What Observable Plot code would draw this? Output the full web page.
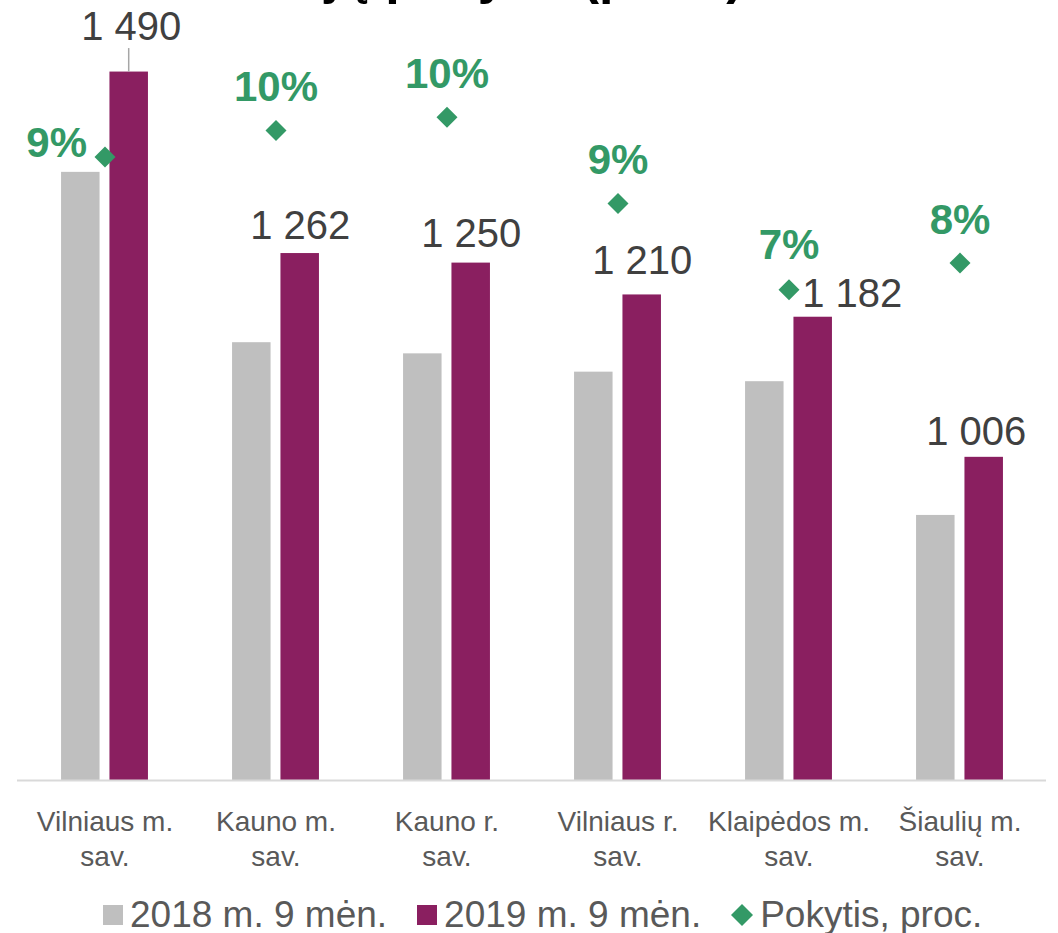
<!DOCTYPE html>
<html>
<head>
<meta charset="utf-8">
<script src="https://cdn.jsdelivr.net/npm/d3@7"></script>
<script src="https://cdn.jsdelivr.net/npm/@observablehq/plot@0.6"></script>
<style>
  html, body { margin: 0; padding: 0; background: #fff; }
  body { width: 1058px; height: 933px; position: relative; overflow: hidden; font-family: "Liberation Sans", Arial, sans-serif; }
  #title { position: absolute; top: -51px; left: 5px; width: 1058px; text-align: center; font-size: 52px; line-height: 52px; font-weight: bold; color: #000; z-index: 2; white-space: nowrap; }
  #chart { position: absolute; top: 0; left: 0; }
  #legend { position: absolute; top: 896px; left: 103px; height: 37px; display: flex; align-items: center; font-size: 37px; line-height: 37px; color: #595959; white-space: nowrap; }
  #legend .item { display: flex; align-items: center; margin-right: 30px; }
  #legend .sw { width: 20px; height: 20px; margin-right: 7px; }
  #legend svg { margin-right: 7px; }
</style>
</head>
<body>
<div id="title">jų pokytis (proc.)</div>
<div id="chart"></div>
<div id="legend"></div>
<script>
// ---- data ----
const categories = ["Vilniaus m.\nsav.", "Kauno m.\nsav.", "Kauno r.\nsav.", "Vilniaus r.\nsav.", "Klaipėdos m.\nsav.", "Šiaulių m.\nsav."];
const values2018 = [1364, 1150, 1136, 1113, 1101, 933];
const values2019 = [1490, 1262, 1250, 1210, 1182, 1006];
const pokytis = [9.4, 9.8, 10.0, 8.7, 7.4, 7.8];
const pokytisLabels = ["9%", "10%", "10%", "9%", "7%", "8%"];
const seriesNames = ["2018 m. 9 mėn.", "2019 m. 9 mėn.", "Pokytis, proc."];

// ---- axes (primary: value, secondary: percent) ----
const yDomain = [600, 1600];
const pctDomain = [0, 12];
const pctToPrimary = p => yDomain[0] + (p - pctDomain[0]) * (yDomain[1] - yDomain[0]) / (pctDomain[1] - pctDomain[0]);

// ---- style / layout ----
const colors = {g2018: "#BFBFBF", g2019: "#8A1F60", pct: "#339966", value: "#404040", cat: "#595959", axis: "#D9D9D9"};
const FONT = "Liberation Sans, Arial, sans-serif";
const valueLabelDx = [2, 0, 0, 0, 39, -8];
const valueLabelDy = [-32, -15, -16, -21, -10, -12];
const pctLabelDx = [-18, 0, 0, 0, 0, 0];
const pctLabelDy = [0, -29, -29, -29, -31, -29];
const pctLabelAnchor = ["end", "middle", "middle", "middle", "middle", "middle"];

const rows = categories.map((c, i) => ({c, v18: values2018[i], v19: values2019[i], p: pokytis[i], pl: pokytisLabels[i], i}));
const fmt = v => String(v).replace(/\B(?=(\d{3})+(?!\d))/g, " ");

const diamond = {
  draw(context, size) {
    const h = Math.sqrt(size / Math.PI);
    context.moveTo(0, -h);
    context.lineTo(h, 0);
    context.lineTo(0, h);
    context.lineTo(-h, 0);
    context.closePath();
  }
};

const W = 1058, H = 880, mL = 17, mR = 12;
const band = (W - mL - mR) / categories.length;
const barW = 39, gap = 9.4;
const center = band / 2;

const marks = [
  Plot.barY(rows, {x: "c", y1: yDomain[0], y2: "v18", fill: colors.g2018,
    insetLeft: center - gap / 2 - barW, insetRight: band - (center - gap / 2)}),
  Plot.barY(rows, {x: "c", y1: yDomain[0], y2: "v19", fill: colors.g2019,
    insetLeft: center + gap / 2, insetRight: band - (center + gap / 2 + barW)}),
  Plot.ruleY([yDomain[0]], {stroke: colors.axis, strokeWidth: 2}),
  Plot.ruleX([rows[0]], {x: "c", y1: "v19", y2: "v19", dx: gap / 2 + barW / 2 - 0.5, insetTop: -23.5, stroke: "#A6A6A6", strokeWidth: 1.5}),
  Plot.text(rows, {x: "c", y: yDomain[0], text: "c", dy: 26, lineAnchor: "top", lineHeight: 1.25,
    fontSize: 28, fill: colors.cat, fontFamily: FONT}),
  Plot.dot(rows, {x: "c", y: d => pctToPrimary(d.p), symbol: diamond, r: 10.5, fill: colors.pct, stroke: "none"}),
  ...rows.map((r, i) => Plot.text([r], {x: "c", y: "v19", text: d => fmt(d.v19),
    dx: gap / 2 + barW / 2 + valueLabelDx[i], dy: valueLabelDy[i], lineAnchor: "bottom",
    fontSize: 40, fill: colors.value, fontFamily: FONT})),
  ...rows.map((r, i) => Plot.text([r], {x: "c", y: d => pctToPrimary(d.p), text: "pl",
    dx: pctLabelDx[i], dy: pctLabelDy[i], textAnchor: pctLabelAnchor[i], lineAnchor: "bottom",
    fontSize: 42, fontWeight: "bold", fill: colors.pct, fontFamily: FONT}))
];

const chart = Plot.plot({
  width: W, height: H,
  marginLeft: mL, marginRight: mR, marginTop: -16, marginBottom: 100,
  x: {type: "band", domain: categories, padding: 0, axis: null},
  y: {domain: yDomain, axis: null},
  style: {fontFamily: FONT, background: "transparent", overflow: "visible"},
  marks
});
document.getElementById("chart").appendChild(chart);

// ---- legend ----
const legend = document.getElementById("legend");
const legendColors = [colors.g2018, colors.g2019, colors.pct];
seriesNames.forEach((name, i) => {
  const item = document.createElement("div");
  item.className = "item";
  if (i < 2) {
    const sw = document.createElement("div");
    sw.className = "sw";
    sw.style.background = legendColors[i];
    item.appendChild(sw);
  } else {
    const ns = "http://www.w3.org/2000/svg";
    const s = document.createElementNS(ns, "svg");
    s.setAttribute("width", 22); s.setAttribute("height", 22);
    const p = document.createElementNS(ns, "path");
    p.setAttribute("d", "M11,0L22,11L11,22L0,11Z");
    p.setAttribute("fill", legendColors[i]);
    s.appendChild(p);
    item.appendChild(s);
  }
  const t = document.createElement("span");
  t.textContent = name;
  item.appendChild(t);
  legend.appendChild(item);
});
</script>
</body>
</html>
